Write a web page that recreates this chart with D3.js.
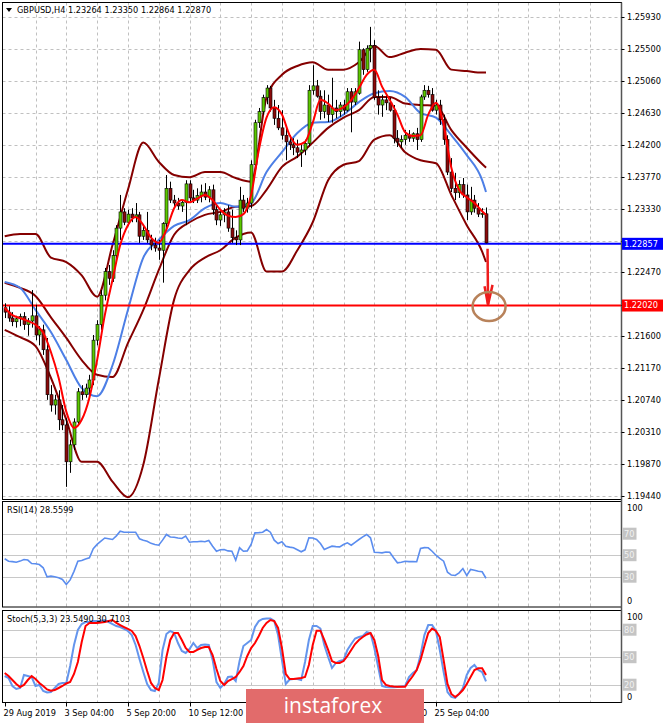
<!DOCTYPE html>
<html><head><meta charset="utf-8">
<script src="https://cdn.jsdelivr.net/npm/d3@7"></script>
<style>body{margin:0;background:#fff}svg{display:block}text{font-family:"DejaVu Sans",sans-serif}</style>
</head><body>
<svg id="c" width="665" height="723"></svg>
<script>
// ---------- DATA ----------
const symbolTitle = "GBPUSD,H4  1.23264 1.23350 1.22864 1.22870";
const openP = [1.2199,1.2193,1.2185,1.2180,1.2184,1.2187,1.2176,1.2181,1.2188,1.2162,
1.2169,1.2142,1.2081,1.2067,1.2074,1.2047,1.2040,1.1990,1.2013,1.2044,
1.2085,1.2081,1.2090,1.2101,1.2155,1.2176,1.2216,1.2248,1.2239,1.2270,
1.2307,1.2329,1.2315,1.2326,1.2321,1.2325,1.2296,1.2304,1.2291,1.2284,
1.2280,1.2277,1.2313,1.2361,1.2345,1.2341,1.2337,1.2342,1.2367,1.2348,
1.2345,1.2351,1.2356,1.2349,1.2359,1.2332,1.2318,1.2325,1.2329,1.2307,
1.2294,1.2291,1.2345,1.2334,1.2341,1.2393,1.2450,1.2465,1.2484,1.2497,
1.2470,1.2456,1.2443,1.2433,1.2424,1.2420,1.2416,1.2410,1.2413,1.2422,
1.2494,1.2500,1.2486,1.2465,1.2474,1.2461,1.2470,1.2465,1.2474,1.2467,
1.2492,1.2478,1.2490,1.2549,1.2522,1.2551,1.2555,1.2484,1.2474,1.2481,
1.2477,1.2467,1.2429,1.2424,1.2427,1.2433,1.2429,1.2435,1.2427,1.2485,
1.2494,1.2488,1.2467,1.2474,1.2454,1.2427,1.2383,1.2361,1.2355,1.2366,
1.2352,1.2329,1.2345,1.2334,1.2326,1.23264];
const highP = [1.2205,1.2201,1.2193,1.2188,1.2191,1.2193,1.2185,1.2223,1.2203,1.2174,
1.2176,1.2158,1.2094,1.2081,1.2087,1.2067,1.2049,1.2020,1.2049,1.2090,
1.2094,1.2096,1.2108,1.2162,1.2182,1.2223,1.2253,1.2257,1.2277,1.2311,
1.2352,1.2334,1.2332,1.2334,1.2341,1.2329,1.2311,1.2329,1.2298,1.2294,
1.2291,1.2315,1.2379,1.2370,1.2352,1.2348,1.2345,1.2372,1.2372,1.2359,
1.2361,1.2366,1.2368,1.2364,1.2366,1.2338,1.2329,1.2334,1.2338,1.2332,
1.2304,1.2363,1.2352,1.2348,1.2399,1.2454,1.2470,1.2488,1.2501,1.2500,
1.2481,1.2474,1.2467,1.2447,1.2433,1.2429,1.2427,1.2420,1.2427,1.2501,
1.2528,1.2508,1.2494,1.2494,1.2488,1.2511,1.2481,1.2478,1.2481,1.2497,
1.2497,1.2497,1.2560,1.2551,1.2555,1.2580,1.2562,1.2494,1.2488,1.2488,
1.2484,1.2474,1.2440,1.2433,1.2440,1.2440,1.2437,1.2443,1.2488,1.2501,
1.2500,1.2497,1.2481,1.2481,1.2461,1.2433,1.2402,1.2382,1.2372,1.2375,
1.2366,1.2363,1.2352,1.2341,1.2334,1.23350];
const lowP = [1.2185,1.2180,1.2174,1.2172,1.2174,1.2169,1.2161,1.2172,1.2155,1.2148,
1.2135,1.2074,1.2058,1.2054,1.2033,1.2033,1.1956,1.1975,1.2006,1.2040,
1.2074,1.2077,1.2081,1.2094,1.2148,1.2169,1.2209,1.2230,1.2234,1.2266,
1.2291,1.2311,1.2310,1.2315,1.2315,1.2287,1.2291,1.2287,1.2277,1.2275,
1.2264,1.2233,1.2307,1.2341,1.2337,1.2332,1.2329,1.2311,1.2342,1.2341,
1.2341,1.2342,1.2345,1.2342,1.2325,1.2311,1.2310,1.2315,1.2302,1.2287,
1.2284,1.2284,1.2329,1.2328,1.2334,1.2389,1.2443,1.2461,1.2475,1.2465,
1.2447,1.2440,1.2427,1.2399,1.2413,1.2406,1.2402,1.2390,1.2406,1.2418,
1.2488,1.2484,1.2454,1.2456,1.2451,1.2450,1.2456,1.2458,1.2461,1.2465,
1.2437,1.2474,1.2488,1.2515,1.2519,1.2532,1.2481,1.2461,1.2458,1.2467,
1.2465,1.2422,1.2417,1.2416,1.2420,1.2424,1.2424,1.2413,1.2424,1.2481,
1.2484,1.2465,1.2461,1.2447,1.2420,1.2379,1.2356,1.2345,1.2348,1.2348,
1.2318,1.2325,1.2328,1.2322,1.2321,1.22864];
const closeP = [1.2193,1.2185,1.2180,1.2184,1.2187,1.2176,1.2181,1.2188,1.2162,1.2169,
1.2142,1.2081,1.2067,1.2074,1.2047,1.2040,1.1990,1.2013,1.2044,1.2085,
1.2081,1.2090,1.2101,1.2155,1.2176,1.2216,1.2248,1.2239,1.2270,1.2307,
1.2329,1.2315,1.2326,1.2321,1.2325,1.2296,1.2304,1.2291,1.2284,1.2280,
1.2277,1.2313,1.2361,1.2345,1.2341,1.2337,1.2342,1.2367,1.2348,1.2345,
1.2351,1.2356,1.2349,1.2359,1.2332,1.2318,1.2325,1.2329,1.2307,1.2294,
1.2291,1.2345,1.2334,1.2341,1.2393,1.2450,1.2465,1.2484,1.2497,1.2470,
1.2456,1.2443,1.2433,1.2424,1.2420,1.2416,1.2410,1.2413,1.2422,1.2494,
1.2500,1.2486,1.2465,1.2474,1.2461,1.2470,1.2465,1.2474,1.2467,1.2492,
1.2478,1.2492,1.2549,1.2522,1.2551,1.2555,1.2484,1.2474,1.2481,1.2477,
1.2467,1.2429,1.2424,1.2427,1.2433,1.2429,1.2435,1.2427,1.2485,1.2494,
1.2488,1.2467,1.2474,1.2454,1.2427,1.2383,1.2361,1.2355,1.2366,1.2352,
1.2329,1.2345,1.2334,1.2326,1.2327,1.22870];

// Bollinger bands & blue MA, read every 4th bar (plus last bar)
const bbUpper = [1.2296,1.2299,1.2299,1.2267,1.2261,1.2243,1.2214,1.2284,1.2359,1.2423,1.2397,1.2379,1.2376,1.2383,1.2383,1.2375,1.2370,1.2484,1.2515,1.2527,1.2532,1.2522,1.2522,1.2532,1.2554,1.2539,1.2545,1.2550,1.2549,1.2522,1.2520,1.2518,1.2518];
const bbMiddle = [1.2233,1.2226,1.2215,1.2186,1.2158,1.2128,1.2108,1.2105,1.2151,1.2196,1.2250,1.2298,1.2315,1.2325,1.2329,1.2336,1.2337,1.2359,1.2390,1.2404,1.2423,1.2443,1.2457,1.2467,1.2485,1.2485,1.2476,1.2474,1.2473,1.2440,1.2416,1.2394,1.2389];
const bbLower = [1.2169,1.2159,1.2147,1.2104,1.2047,1.1990,1.1990,1.1963,1.1942,1.1986,1.2101,1.2210,1.2250,1.2267,1.2277,1.2294,1.2301,1.2248,1.2248,1.2277,1.2315,1.2372,1.2393,1.2398,1.2427,1.2433,1.2410,1.2399,1.2395,1.2352,1.2311,1.2275,1.2261];
const blueMA = [1.2234,1.2226,1.2196,1.2166,1.2128,1.2090,1.2079,1.2121,1.2196,1.2267,1.2291,1.2310,1.2318,1.2334,1.2341,1.2336,1.2341,1.2383,1.2410,1.2436,1.2450,1.2451,1.2461,1.2478,1.2490,1.2493,1.2485,1.2463,1.2457,1.2433,1.2406,1.2372,1.2356];
// red fast MA, read every 2nd bar (plus last bar)
const redMA = [1.2199,1.2189,1.2185,1.2181,1.2176,1.2165,1.2139,1.2104,1.2058,1.2036,1.2047,1.2077,1.2128,1.2189,1.2237,1.2284,1.2311,1.2322,1.2311,1.2294,1.2287,1.2305,1.2334,1.2345,1.2342,1.2347,1.2352,1.2345,1.2332,1.2324,1.2322,1.2326,1.2352,1.2413,1.2457,1.2471,1.2461,1.2433,1.2420,1.2424,1.2450,1.2481,1.2476,1.2467,1.2471,1.2481,1.2497,1.2515,1.2522,1.2499,1.2481,1.2461,1.2437,1.2432,1.2433,1.2461,1.2477,1.2447,1.2389,1.2359,1.2349,1.2341,1.2330,1.2325];

const rsi = [46.7,44.4,44.0,43.5,44.5,46.0,45.5,42.3,42.0,41.3,
38.3,29.9,30.5,29.9,29.0,27.4,22.7,27.0,35.0,44.4,
45.1,46.5,47.6,56.0,60.0,63.0,66.0,65.3,64.6,68.0,
72.3,71.4,71.4,71.4,71.4,65.3,64.0,63.0,61.0,60.0,
59.3,64.0,69.3,67.0,66.7,66.0,65.5,67.7,62.1,62.5,
62.5,63.0,62.5,63.7,58.4,53.7,55.0,55.3,54.0,53.7,
45.3,56.9,53.7,54.0,60.0,70.8,71.0,71.4,73.9,71.4,
64.0,60.9,62.5,58.4,57.5,56.9,55.0,53.2,55.0,66.2,
66.0,64.6,60.9,55.3,57.0,58.4,58.0,57.8,60.0,61.5,
59.3,62.0,64.6,67.0,69.3,66.2,52.8,52.5,52.2,53.0,
52.8,47.6,42.9,43.5,44.4,44.0,44.0,43.9,56.2,57.0,
56.9,53.7,50.0,47.0,44.4,34.2,31.5,31.1,33.6,37.6,
31.1,36.7,36.0,35.1,34.6,28.56];
const stochK = [29.5,27.3,18.6,15.3,16.4,30.6,29.5,28.4,18.6,19.7,
13.1,11.5,12.0,16.4,20.8,21.9,21.9,40.4,63.3,79.7,
86.2,88.4,88.4,89.5,89.5,89.5,90.6,88.4,86.2,84.0,
82.9,80.8,78.6,74.2,63.3,48.0,33.9,20.8,14.2,13.1,
21.9,57.8,75.3,78.6,76.4,65.5,56.8,54.6,58.9,65.5,
60.0,63.3,63.9,63.3,47.0,22.9,16.4,20.8,28.4,28.9,
24.0,45.9,62.2,65.5,68.8,82.9,89.5,91.7,92.2,92.2,
89.5,74.2,46.9,20.8,25.7,26.2,26.2,25.1,44.8,68.8,
84.0,84.0,81.3,63.3,50.2,38.2,43.7,45.8,46.9,57.8,
64.4,70.4,72.0,73.1,77.5,76.4,60.0,39.3,18.6,17.5,
17.2,17.2,17.5,18.1,18.6,28.4,32.8,36.0,52.4,74.2,
85.1,85.1,78.6,57.8,33.8,12.0,6.6,5.5,9.9,16.4,
30.6,38.2,41.5,36.0,33.8,23.549];
const stochD = [32.8,29.5,25.1,20.8,17.5,19.7,25.1,29.5,26.2,21.9,
18.6,14.8,13.5,14.2,16.4,18.6,21.3,22.9,31.7,44.8,
66.6,84.0,87.3,87.3,87.3,87.9,88.4,89.5,90.6,87.3,
85.1,82.9,80.8,78.6,73.1,62.2,49.1,34.9,21.9,16.4,
14.2,25.1,50.2,68.8,76.4,76.4,68.8,60.0,55.7,55.7,
57.9,60.0,61.1,61.1,52.4,37.1,24.0,19.7,24.0,26.2,
28.4,33.9,40.4,51.3,60.0,65.5,73.1,81.9,87.3,90.6,
89.5,81.9,60.0,31.7,26.2,26.2,26.8,27.3,28.4,41.5,
63.3,78.9,78.9,68.8,57.9,45.8,43.7,43.7,45.8,51.3,
57.9,64.4,68.8,72.0,74.8,76.4,68.8,51.3,25.1,19.7,
18.6,18.1,17.8,17.8,17.8,24.0,29.5,36.0,46.9,62.2,
76.4,81.3,78.6,72.0,46.9,20.8,9.9,6.6,9.9,14.2,
20.8,28.4,36.0,37.9,37.9,30.71];

const priceTicks = [1.25930,1.25500,1.25060,1.24630,1.24200,1.23770,1.23330,1.22900,1.22470,1.22030,1.21600,1.21170,1.20740,1.20310,1.19870,1.19440];
const hiddenTicks = [1.22900,1.22030];
// labels visible in the picture (the others sit under the watermark)
const timeLabels = ["29 Aug 2019","3 Sep 04:00","5 Sep 20:00","10 Sep 12:00","20 Sep 12:00","25 Sep 04:00"];
const timeLabelBars = [0,16,32,48,96,112];
const rsiLevels = [70,50,30];
const stochLevels = [80,50,20];
const blueLevel = 1.22857, redLevel = 1.22020;
const rsiTitle = "RSI(14) 28.5599";
const stochTitle = "Stoch(5,3,3) 23.5490 30.7103";

// ---------- LAYOUT ----------
const svg = d3.select("#c");
const L = 2.5, R = 621.5;
const P = {main:[2.5,499.5], rsi:[501.5,607], st:[610.5,702.5]};
const x = d3.scaleLinear().domain([0,125]).range([4.7,486]);
const y = d3.scaleLinear().domain([1.19440,1.25930]).range([495.7,17.3]);
const yR = d3.scaleLinear().domain([30,70]).range([576.7,533.7]);
const yS = d3.scaleLinear().domain([20,80]).range([684.7,629.7]);
const GRID = "#c0c0c0";

const defs = svg.append("defs");
Object.entries(P).forEach(([k,[t,b]])=>{
  defs.append("clipPath").attr("id","clip-"+k).append("rect").attr("x",L).attr("y",t).attr("width",R-L).attr("height",b-t);
});
defs.append("clipPath").attr("id","clip-wm").append("rect").attr("x",424).attr("y",700).attr("width",200).attr("height",23);

// vertical grid
const gridBars = d3.range(8,160,8).filter(i=>x(i)<R-2);
Object.entries(P).forEach(([k,[t,b]])=>{
  svg.append("g").selectAll("line").data(gridBars).join("line")
    .attr("x1",d=>Math.round(x(d))+0.5).attr("x2",d=>Math.round(x(d))+0.5)
    .attr("y1",t).attr("y2",b).attr("stroke",GRID).attr("stroke-dasharray","3,3");
});
// horizontal grid main
svg.append("g").selectAll("line").data(priceTicks).join("line")
  .attr("x1",L).attr("x2",R).attr("y1",d=>Math.round(y(d))+0.5).attr("y2",d=>Math.round(y(d))+0.5)
  .attr("stroke",GRID).attr("stroke-dasharray","3,3");
// level lines
svg.append("g").selectAll("line").data(rsiLevels).join("line")
  .attr("x1",L).attr("x2",R).attr("y1",d=>Math.round(yR(d))+0.5).attr("y2",d=>Math.round(yR(d))+0.5)
  .attr("stroke","#c8c8c8");
svg.append("g").selectAll("line").data(stochLevels).join("line")
  .attr("x1",L).attr("x2",R).attr("y1",d=>Math.round(yS(d))+0.5).attr("y2",d=>Math.round(yS(d))+0.5)
  .attr("stroke","#c8c8c8");

// ---------- MAIN PANEL ----------
const gm = svg.append("g").attr("clip-path","url(#clip-main)");
const bandBars = d3.range(0,125,4).concat([125]);
const redBars = d3.range(0,125,2).concat([125]);
const lineP = (bars,vals,sc)=> d3.line().x((d,i)=>x(bars[i])).y(d=>sc(d)).curve(d3.curveMonotoneX)(vals);
const MAROON = "#850000";
[bbUpper,bbMiddle,bbLower].forEach(v=>{
  gm.append("path").attr("d",lineP(bandBars,v,y)).attr("fill","none").attr("stroke",MAROON).attr("stroke-width",2);
});
gm.append("path").attr("d",lineP(bandBars,blueMA,y)).attr("fill","none").attr("stroke","#4d7fe6").attr("stroke-width",2);

// price levels
gm.append("line").attr("x1",L).attr("x2",R).attr("y1",y(blueLevel)).attr("y2",y(blueLevel)).attr("stroke","#0000ff").attr("stroke-width",2);
gm.append("line").attr("x1",L).attr("x2",R).attr("y1",y(redLevel)).attr("y2",y(redLevel)).attr("stroke","#ff0000").attr("stroke-width",2);

// candles
const bars = d3.range(openP.length);
gm.append("g").selectAll("line").data(bars).join("line")
  .attr("x1",i=>Math.round(x(i))+0.5).attr("x2",i=>Math.round(x(i))+0.5)
  .attr("y1",i=>y(highP[i])).attr("y2",i=>y(lowP[i])).attr("stroke","#000").attr("stroke-width",1);
gm.append("g").selectAll("rect").data(bars).join("rect")
  .attr("x",i=>Math.round(x(i))-1)
  .attr("width",3)
  .attr("y",i=>Math.min(y(openP[i]),y(closeP[i])))
  .attr("height",i=>Math.max(1,Math.abs(y(openP[i])-y(closeP[i]))))
  .attr("fill",i=>closeP[i]>=openP[i]?"#5cc800":"#8b0a0a")
  .attr("stroke","#000").attr("stroke-width",0.6);

gm.append("path").attr("d",lineP(redBars,redMA,y)).attr("fill","none").attr("stroke","#ff0000").attr("stroke-width",2);

// annotation arrow & circle
const arrowBar = 125.4;
const ax = x(arrowBar);
svg.append("line").attr("x1",ax).attr("x2",ax+0.5).attr("y1",y(1.2279)).attr("y2",y(1.2204)).attr("stroke","#ee1c1c").attr("stroke-width",2.5);
svg.append("path").attr("d",`M${ax-3},${y(1.2228)} L${ax+0.5},${y(1.2203)} L${ax+5},${y(1.2230)}`).attr("fill","none").attr("stroke","#ee1c1c").attr("stroke-width",2.5);
svg.append("ellipse").attr("cx",x(125.8)).attr("cy",y(redLevel)+1).attr("rx",16.5).attr("ry",14.5).attr("fill","none").attr("stroke","#b8825a").attr("stroke-width",2.5);

// ---------- RSI ----------
const gr = svg.append("g").attr("clip-path","url(#clip-rsi)");
gr.append("path").attr("d",d3.line().x((d,i)=>x(i)).y(d=>yR(d))(rsi)).attr("fill","none").attr("stroke","#5b8def").attr("stroke-width",1.6);
// ---------- STOCH ----------
const gs = svg.append("g").attr("clip-path","url(#clip-st)");
gs.append("path").attr("d",d3.line().x((d,i)=>x(i)).y(d=>yS(d))(stochK)).attr("fill","none").attr("stroke","#6495ed").attr("stroke-width",2);
gs.append("path").attr("d",d3.line().x((d,i)=>x(i)).y(d=>yS(d))(stochD)).attr("fill","none").attr("stroke","#ff0000").attr("stroke-width",2);

// ---------- FRAMES ----------
Object.values(P).forEach(([t,b])=>{
  svg.append("rect").attr("x",L).attr("y",t).attr("width",R-L).attr("height",b-t).attr("fill","none").attr("stroke","#000").attr("stroke-width",1);
});
svg.append("line").attr("x1",R).attr("x2",R).attr("y1",P.main[0]).attr("y2",P.st[1]).attr("stroke","#555").attr("stroke-width",1.5);

// ---------- AXES / LABELS ----------
const fs = 8.2;
const ax1 = svg.append("g");
priceTicks.forEach(v=>{
  const yy = Math.round(y(v))+0.5;
  ax1.append("line").attr("x1",R).attr("x2",R+3).attr("y1",yy).attr("y2",yy).attr("stroke","#000");
  if(!hiddenTicks.includes(v))
    ax1.append("text").attr("x",627).attr("y",yy).attr("dy","0.35em").attr("font-size",fs).text(v.toFixed(5));
});
[[blueLevel,"#0000ff"],[redLevel,"#ff0000"]].forEach(([v,c])=>{
  const yy = y(v);
  ax1.append("rect").attr("x",R+0.5).attr("y",yy-6).attr("width",41).attr("height",12).attr("fill",c);
  ax1.append("text").attr("x",624).attr("y",yy).attr("dy","0.35em").attr("font-size",fs).attr("fill","#fff").text(v.toFixed(5));
});
const lvlLabel = (g,v,yy)=>{
  g.append("rect").attr("x",R+1).attr("y",yy-6).attr("width",14).attr("height",12).attr("fill","#c4c4c4");
  g.append("text").attr("x",R+2.5).attr("y",yy).attr("dy","0.35em").attr("font-size",fs).attr("fill","#f2f2f2").text(v);
};
rsiLevels.forEach(v=>lvlLabel(ax1,v,yR(v)));
stochLevels.forEach(v=>lvlLabel(ax1,v,yS(v)));
[[100,507.7],[0,601]].forEach(([v,yy])=>ax1.append("text").attr("x",627).attr("y",yy).attr("dy","0.35em").attr("font-size",fs).text(v));
[[100,616.7],[0,696.7]].forEach(([v,yy])=>ax1.append("text").attr("x",627).attr("y",yy).attr("dy","0.35em").attr("font-size",fs).text(v));

// titles
svg.append("path").attr("d","M6,8 L12,8 L9,12 Z").attr("fill","#000");
svg.append("text").attr("x",17).attr("y",10).attr("dy","0.35em").attr("font-size",fs).text(symbolTitle);
svg.append("text").attr("x",7).attr("y",510).attr("dy","0.35em").attr("font-size",fs).text(rsiTitle);
svg.append("text").attr("x",7).attr("y",619).attr("dy","0.35em").attr("font-size",fs).text(stochTitle);

// time axis
timeLabelBars.forEach((b,i)=>{
  const xx = Math.round(x(b))+0.5;
  svg.append("line").attr("x1",xx).attr("x2",xx).attr("y1",P.st[1]).attr("y2",P.st[1]+4).attr("stroke","#000");
  const t = svg.append("text").attr("x",xx-2).attr("y",713).attr("dy","0.35em").attr("font-size",fs).text(timeLabels[i]);
  if (xx-2 < 424 && xx+50 > 246) t.attr("clip-path","url(#clip-wm)");
});

// watermark
svg.append("rect").attr("x",246).attr("y",689).attr("width",178).attr("height",34).attr("fill","#e26b6b");
svg.append("text").attr("x",333).attr("y",706).attr("dy","0.35em").attr("text-anchor","middle")
  .attr("font-size",21).attr("fill","#fff").style("font-family","'Open Sans',sans-serif").text("instaforex");
</script>
</body></html>
